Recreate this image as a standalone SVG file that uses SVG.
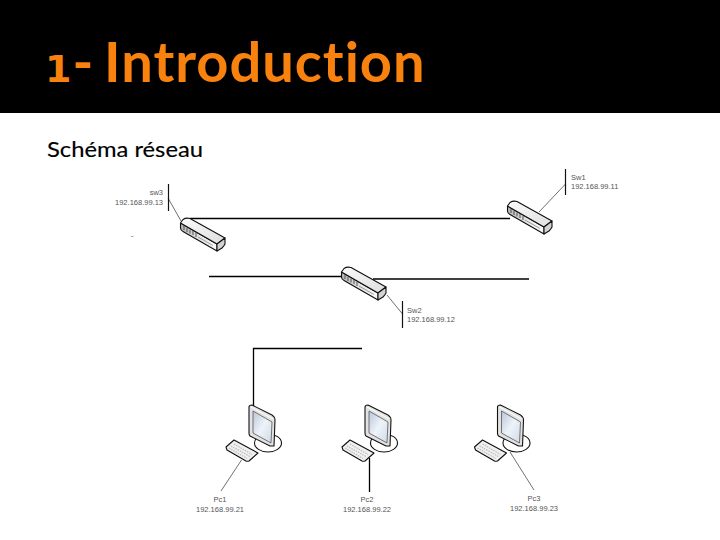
<svg xmlns="http://www.w3.org/2000/svg" width="720" height="540" viewBox="0 0 720 540">
<style>
.title{font-family:"Lato","Open Sans",sans-serif;font-weight:700;font-size:56px;fill:#f9820f;font-variant-ligatures:none;letter-spacing:1px}
.one{font-family:"DejaVu Sans",sans-serif;font-weight:700;font-size:38px}
.sub{font-family:"Lato","Open Sans",sans-serif;font-size:21px;fill:#000;stroke:#000;stroke-width:.15}
.lbl{font-family:"Liberation Sans",Arial,sans-serif;font-size:7.5px;fill:#555}
.wire{fill:none;stroke:#000;stroke-width:1.3}
.lead{fill:none;stroke:#333;stroke-width:.7}
.bar{fill:none;stroke:#111;stroke-width:1.2}
.o{stroke:#111;stroke-width:1.1;stroke-linejoin:round}
</style>
<defs>
<linearGradient id="swTop" x1="0" y1="0" x2="1" y2="1"><stop offset="0" stop-color="#fbfbfb"/><stop offset="1" stop-color="#dedede"/></linearGradient>
<linearGradient id="swFront" x1="0" y1="0" x2="1" y2="0"><stop offset="0" stop-color="#b5b5b5"/><stop offset=".5" stop-color="#e4e4e4"/><stop offset="1" stop-color="#fafafa"/></linearGradient>
<linearGradient id="scr" x1="0" y1="0" x2="1" y2="1"><stop offset="0" stop-color="#b9c6da"/><stop offset=".5" stop-color="#eef3f9"/><stop offset="1" stop-color="#cfd9e7"/></linearGradient>
<g id="sw">
<path class="o" fill="url(#swFront)" d="M.5 5 L37 26 L37 33 L3 13.500 Q.5 12.500 .5 10 Z"/>
<path class="o" fill="url(#swTop)" d="M.5 5 L3 1.500 Q6 -.5 10 .5 L45 20 L37 26 Z"/>
<path class="o" fill="#d2d2d2" d="M37 26 L45 20 L45 26 Q44 28 42 30 L37 33 Z"/>
<path d="M4 8v4M7 10v4M10 11.500v4M13 13v4M16 15v4" stroke="#444" stroke-width=".9" fill="none"/>
<path d="M18 19 L33 27.500" stroke="#777" stroke-width=".7" fill="none"/>
</g>
<g id="pc">
<ellipse class="o" cx="268" cy="443" rx="13.500" ry="9" fill="#fff"/>
<path class="o" fill="#e2e2e2" d="M249 407 Q249 405 252 405 L272 415 Q275 417 275 420 L274 446 L270 446 L250 436 Q249 435 249 433 Z"/>
<path d="M251 407 L273 419" stroke="#fff" stroke-width="1" fill="none"/>
<path stroke="#555" stroke-width=".8" fill="url(#scr)" d="M253 411 L272 422 L271 443 L253 433 Z"/>
<path class="o" fill="#f0f0f0" d="M226 447 L234 440 L258 453 L249 461 Q247 461.500 246 461 L227 450 Z"/>
<path d="M231 446 L250 456.500M234 444 L252 454.500M229 448 L247 458.500" stroke="#bbb" stroke-width="1.200" stroke-dasharray="1.500 1" fill="none"/>
</g>
</defs>
<rect width="720" height="540" fill="#fff"/>
<rect id="banner" width="720" height="113" fill="#000"/>
<text class="title" x="45" y="82"><tspan class="one">1</tspan>-<tspan font-size="8"> </tspan><tspan x="104">Introduction</tspan></text>
<text class="sub" x="47" y="157" textLength="156" lengthAdjust="spacingAndGlyphs">Schéma réseau</text>
<g id="connectors">
<path class="wire" d="M190 218.500 H510"/>
<path class="wire" d="M209 276.500 H342"/>
<path class="wire" d="M373 279 H529"/>
<path class="wire" d="M362 348.500 H253.500 V406"/>
<path class="lead" d="M168 198 L181 221"/>
<path class="lead" d="M565.500 184 L539 212"/>
<path class="lead" d="M387 295 L402.500 314"/>
<path class="lead" d="M241.500 460 L221 491"/>
<path class="wire" d="M369.500 458 V492"/>
<path class="lead" d="M510 452 L534 490"/>
</g>
<path d="M131 236.500 H133.500" stroke="#aaa" stroke-width="1"/>
<g id="sw3">
<use href="#sw" x="180" y="218"/>
<path class="bar" d="M168.500 184 V211"/>
<text class="lbl" x="163" y="195" text-anchor="end">sw3</text>
<text class="lbl" x="163" y="205" text-anchor="end">192.168.99.13</text>
</g>
<g id="sw1">
<use href="#sw" x="507" y="201"/>
<path class="bar" d="M565.500 169 V195"/>
<text class="lbl" x="571" y="180">Sw1</text>
<text class="lbl" x="571" y="189">192.168.99.11</text>
</g>
<g id="sw2">
<use href="#sw" x="341" y="267"/>
<path class="bar" d="M402.500 301 V328"/>
<text class="lbl" x="407" y="313">Sw2</text>
<text class="lbl" x="407" y="322">192.168.99.12</text>
</g>
<g id="pc1">
<use href="#pc"/>
<text class="lbl" x="220" y="502" text-anchor="middle">Pc1</text>
<text class="lbl" x="220" y="512" text-anchor="middle">192.168.99.21</text>
</g>
<g id="pc2">
<use href="#pc" x="116"/>
<text class="lbl" x="367" y="502" text-anchor="middle">Pc2</text>
<text class="lbl" x="367" y="512" text-anchor="middle">192.168.99.22</text>
</g>
<g id="pc3">
<use href="#pc" x="248.500"/>
<text class="lbl" x="534" y="501" text-anchor="middle">Pc3</text>
<text class="lbl" x="534" y="511" text-anchor="middle">192.168.99.23</text>
</g>
</svg>
